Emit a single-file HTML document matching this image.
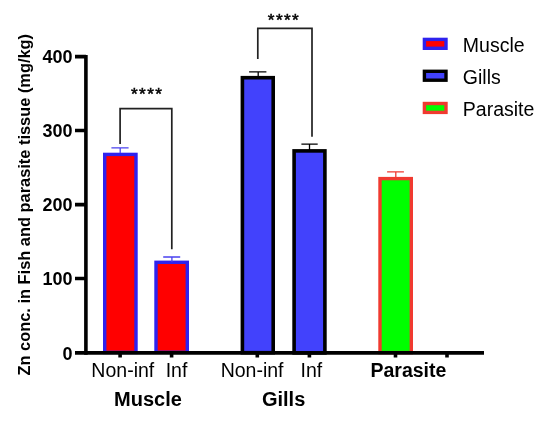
<!DOCTYPE html>
<html><head><meta charset="utf-8">
<style>
html,body{margin:0;padding:0;background:#fff;width:550px;height:423px;overflow:hidden;}
svg{display:block;position:absolute;left:0;top:0;filter:blur(0.35px);}
text{font-family:"Liberation Sans",sans-serif;fill:#000;}
.b{font-weight:bold;}
</style></head>
<body>
<svg width="550" height="423" viewBox="0 0 550 423">
<!-- y-axis title -->
<text class="b" font-size="16.4" transform="translate(30.2,204.7) rotate(-90)" text-anchor="middle">Zn conc. in Fish and parasite tissue (mg/kg)</text>

<!-- tick labels -->
<g class="b" font-size="18" text-anchor="end">
<text x="72.6" y="63.4">400</text>
<text x="72.6" y="137.4">300</text>
<text x="72.6" y="211.4">200</text>
<text x="72.6" y="285.4">100</text>
<text x="72.6" y="359.5">0</text>
</g>

<!-- bars -->
<rect x="104.7" y="154.4" width="31.3" height="198" fill="#ff0000" stroke="#2e22ee" stroke-width="3.4"/>
<rect x="156" y="262.3" width="31.3" height="90" fill="#ff0000" stroke="#2e22ee" stroke-width="3.4"/>
<rect x="242.4" y="77.7" width="30.8" height="275" fill="#4242fc" stroke="#000" stroke-width="3.6"/>
<rect x="294.1" y="150.9" width="30.8" height="202" fill="#4242fc" stroke="#000" stroke-width="3.6"/>
<rect x="380" y="178.6" width="31.3" height="174" fill="#00ff00" stroke="#f03a30" stroke-width="3.4"/>

<!-- error bars -->
<g stroke-width="1.3" fill="none">
<path d="M111.4 147.8H128.6M120.2 147.8V153" stroke="#4a42f0"/>
<path d="M163.2 257H180.2M171.9 257V262" stroke="#4a42f0"/>
<path d="M249.1 71.8H266.4M258.2 71.8V77" stroke="#000"/>
<path d="M301.4 144.2H317.7M309.5 144.2V150" stroke="#000"/>
<path d="M387.1 171.8H403.9M395.8 171.8V177" stroke="#f03a30"/>
</g>

<!-- significance brackets -->
<g stroke="#222" stroke-width="1.7" fill="none">
<path d="M120.1 143.9V108.6H171.8V249.2"/>
<path d="M257.8 59V28.4H312V136.8"/>
</g>
<g font-size="17.2" letter-spacing="1.4" text-anchor="middle" stroke="#000" stroke-width="0.5">
<text x="147.2" y="100.2">****</text>
<text x="284" y="25.9">****</text>
</g>

<!-- axes -->
<g stroke="#000" stroke-width="3.6" fill="none">
<path d="M85.9 55V354.7"/>
<path d="M75 352.9H484"/>
<path d="M75 56.6H86M75 130.5H86M75 204.6H86M75 278.5H86"/>
<path d="M120.1 352.9V357.6M171.6 352.9V357.6M257.3 352.9V357.6M309.4 352.9V357.6M395.5 352.9V357.6M447 352.9V357.6"/>
</g>

<!-- x labels -->
<g font-size="19.5">
<text x="122.8" y="377" text-anchor="middle">Non-inf</text>
<text x="176.5" y="377" text-anchor="middle">Inf</text>
<text x="252.1" y="377" text-anchor="middle">Non-inf</text>
<text x="311.4" y="377" text-anchor="middle">Inf</text>
</g>
<g class="b" font-size="19.5" text-anchor="middle">
<text x="408.4" y="376.5">Parasite</text>
<text x="148" y="406" font-size="20">Muscle</text>
<text x="283.6" y="406.2" font-size="20">Gills</text>
</g>

<!-- legend -->
<rect x="424.4" y="39.4" width="21.6" height="8.9" fill="#ff0000" stroke="#2e22ee" stroke-width="3.4"/>
<rect x="424.4" y="71.3" width="21.6" height="8.9" fill="#4242fc" stroke="#000" stroke-width="3.4"/>
<rect x="424.4" y="103.5" width="21.6" height="8.9" fill="#00ff00" stroke="#f03a30" stroke-width="3.4"/>
<g font-size="19.5">
<text x="462.8" y="51.6">Muscle</text>
<text x="462.8" y="83.7">Gills</text>
<text x="462.8" y="115.8">Parasite</text>
</g>
</svg>
</body></html>
